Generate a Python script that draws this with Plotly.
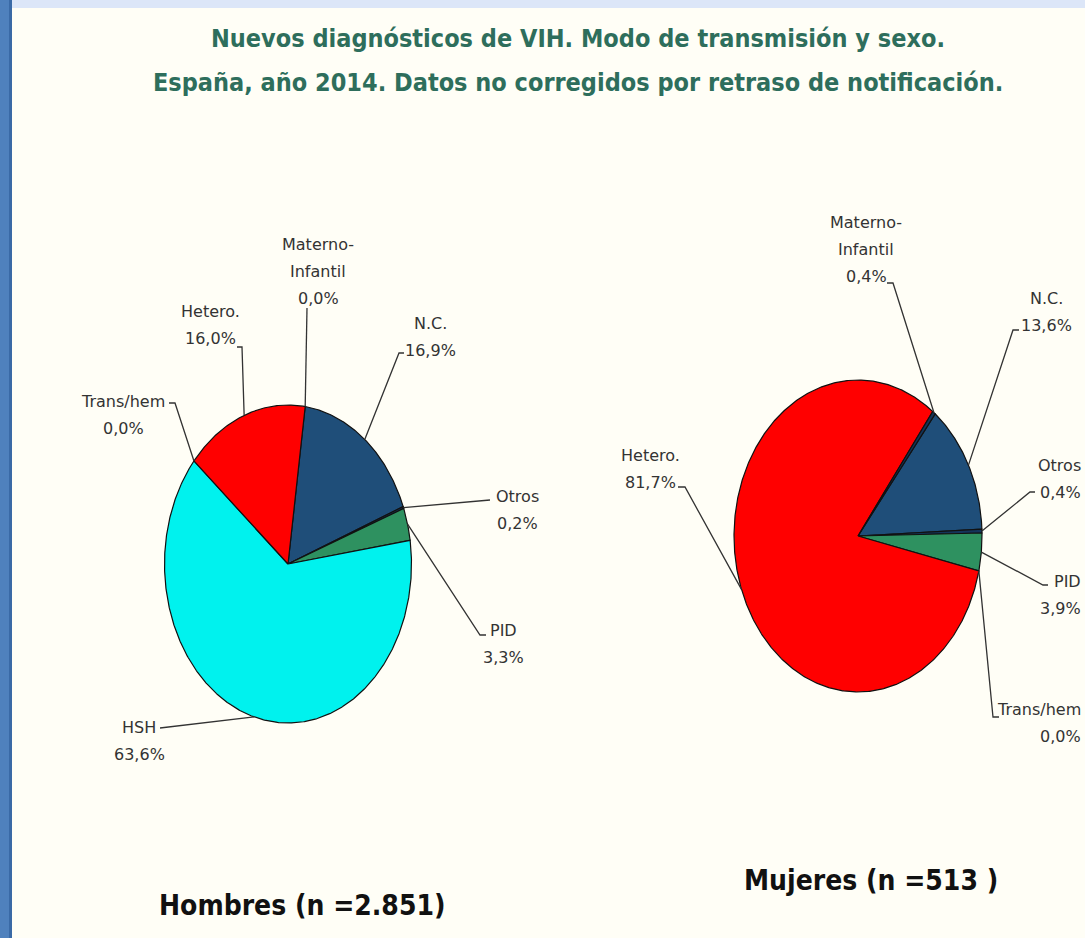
import numpy as np
import plotly.graph_objects as go

# ---------------- data ----------------
title_lines = ["Nuevos diagnósticos de VIH. Modo de transmisión y sexo.",
               "España, año 2014. Datos no corregidos por retraso de notificación."]

hombres_cats = ["N.C.", "Otros", "PID", "HSH", "Trans/hem", "Hetero.", "Materno-\nInfantil"]
hombres_vals = [16.9, 0.2, 3.3, 63.6, 0.0, 16.0, 0.0]
hombres_caption = "Hombres (n =2.851)"

mujeres_cats = ["N.C.", "Otros", "PID", "Trans/hem", "Hetero.", "Materno-\nInfantil"]
mujeres_vals = [13.6, 0.4, 3.9, 0.0, 81.7, 0.4]
mujeres_caption = "Mujeres (n =513 )"

# ---------------- styles / layout ----------------
W, H = 1085, 938
BG = "#FFFEF6"
slice_colors = {
    "N.C.": "#1F4E79",
    "Otros": "#14345A",
    "PID": "#2E9160",
    "HSH": "#00F2EE",
    "Trans/hem": "#7A7A7A",
    "Hetero.": "#FF0000",
    "Materno-\nInfantil": "#14345A",
}
LABEL_FONT = dict(family="DejaVu Sans, Verdana, sans-serif", size=16, color="#333333")
LINE_GAP = 27

pies = [
    dict(cats=hombres_cats, vals=hombres_vals, cx=288, cy=564, rx=123.5, ry=159, rot=8.0,
         caption=hombres_caption, cap_xy=(302, 905),
         labels={
             "N.C.": dict(pos=(430, 323), anchor="center", elbow=[(399, 353), (404, 353)]),
             "Otros": dict(pos=(517, 496), anchor="center", elbow=[(490, 500)]),
             "PID": dict(pos=(503, 630), anchor="center", elbow=[(480, 635), (486, 635)]),
             "HSH": dict(pos=(139, 727), anchor="center", elbow=[(160, 728)]),
             "Trans/hem": dict(pos=(123, 401), anchor="center", elbow=[(175, 403), (169, 403)]),
             "Hetero.": dict(pos=(210, 311), anchor="center", elbow=[(242, 347), (237, 347)]),
             "Materno-\nInfantil": dict(pos=(318, 244), anchor="center", elbow=[(307, 308)]),
         }),
    dict(cats=mujeres_cats, vals=mujeres_vals, cx=858, cy=536, rx=124, ry=156, rot=38.5,
         caption=mujeres_caption, cap_xy=(871, 880),
         labels={
             "N.C.": dict(pos=(1046, 298), anchor="center", elbow=[(1013, 330), (1019, 330)]),
             "Otros": dict(pos=(1083, 465), anchor="right", elbow=[(1030, 492), (1035, 492)]),
             "PID": dict(pos=(1083, 581), anchor="right", elbow=[(1043, 585), (1048, 585)]),
             "Trans/hem": dict(pos=(1083, 709), anchor="right", elbow=[(993, 717), (999, 717)]),
             "Hetero.": dict(pos=(650, 455), anchor="center", elbow=[(685, 487), (678, 487)]),
             "Materno-\nInfantil": dict(pos=(866, 222), anchor="center", elbow=[(893, 283), (887, 283)]),
         }),
]

fig = go.Figure()
annotations = []


def edge_point(p, ang_deg):
    a = np.radians(ang_deg)
    return p["cx"] + p["rx"] * np.sin(a), p["cy"] - p["ry"] * np.cos(a)


for p in pies:
    vals = np.array(p["vals"], dtype=float)
    fr = vals / vals.sum()
    starts = p["rot"] + 360 * np.concatenate([[0], np.cumsum(fr)[:-1]])
    ends = starts + 360 * fr
    # slices
    for cat, v, a0, a1 in zip(p["cats"], vals, starts, ends):
        if v <= 0:
            continue
        t = np.linspace(a0, a1, max(8, int((a1 - a0) * 2)))
        xs = [p["cx"]] + [edge_point(p, a)[0] for a in t] + [p["cx"]]
        ys = [p["cy"]] + [edge_point(p, a)[1] for a in t] + [p["cy"]]
        fig.add_trace(go.Scatter(x=xs, y=ys, mode="lines", fill="toself",
                                 fillcolor=slice_colors[cat],
                                 line=dict(color="#111111", width=1.2),
                                 hoverinfo="skip", showlegend=False))
    # leader lines + labels
    for cat, v, a0, a1 in zip(p["cats"], vals, starts, ends):
        spec = p["labels"][cat]
        sx, sy = edge_point(p, (a0 + a1) / 2)
        lx = [sx] + [e[0] for e in spec["elbow"]]
        ly = [sy] + [e[1] for e in spec["elbow"]]
        fig.add_trace(go.Scatter(x=lx, y=ly, mode="lines",
                                 line=dict(color="#333333", width=1.3),
                                 hoverinfo="skip", showlegend=False))
        pct = f"{v:.1f}".replace(".", ",") + "%"
        lines = cat.split("\n") + [pct]
        x0, y0 = spec["pos"]
        for i, txt in enumerate(lines):
            annotations.append(dict(x=x0, y=y0 + i * LINE_GAP, xref="x", yref="y",
                                    text=txt, showarrow=False, xanchor=spec["anchor"],
                                    align=spec["anchor"],
                                    yanchor="middle", font=LABEL_FONT))
    annotations.append(dict(x=p["cap_xy"][0], y=p["cap_xy"][1], xref="x", yref="y",
                            text=f"<b>{p['caption']}</b>", showarrow=False,
                            xanchor="center", yanchor="middle",
                            font=dict(family="Liberation Sans Narrow, DejaVu Sans Condensed, DejaVu Sans, sans-serif",
                                      size=28, color="#111111")))

for i, (txt, y) in enumerate(zip(title_lines, [38, 82])):
    annotations.append(dict(x=578, y=y, xref="x", yref="y", text=f"<b>{txt}</b>",
                            showarrow=False, xanchor="center", yanchor="middle",
                            font=dict(family="Liberation Sans Narrow, DejaVu Sans Condensed, DejaVu Sans, sans-serif",
                                      size=25, color="#2E6E5C")))

shapes = [
    dict(type="rect", xref="x", yref="y", x0=0, x1=W, y0=0, y1=8,
         fillcolor="#DCE6F8", line=dict(width=0), layer="below"),
    dict(type="rect", xref="x", yref="y", x0=0, x1=9, y0=0, y1=H,
         fillcolor="#4F81BD", line=dict(width=0), layer="below"),
    dict(type="rect", xref="x", yref="y", x0=9, x1=12, y0=0, y1=H,
         fillcolor="#3A6AA6", line=dict(width=0), layer="below"),
]

fig.update_layout(
    width=W, height=H, margin=dict(l=0, r=0, t=0, b=0),
    paper_bgcolor=BG, plot_bgcolor=BG,
    xaxis=dict(range=[0, W], visible=False, fixedrange=True),
    yaxis=dict(range=[H, 0], visible=False, fixedrange=True),
    annotations=annotations, shapes=shapes, showlegend=False,
)

fig.write_html("out.html", config={"displayModeBar": False},
               post_script="document.body.style.margin='0';document.body.style.overflow='hidden';")
